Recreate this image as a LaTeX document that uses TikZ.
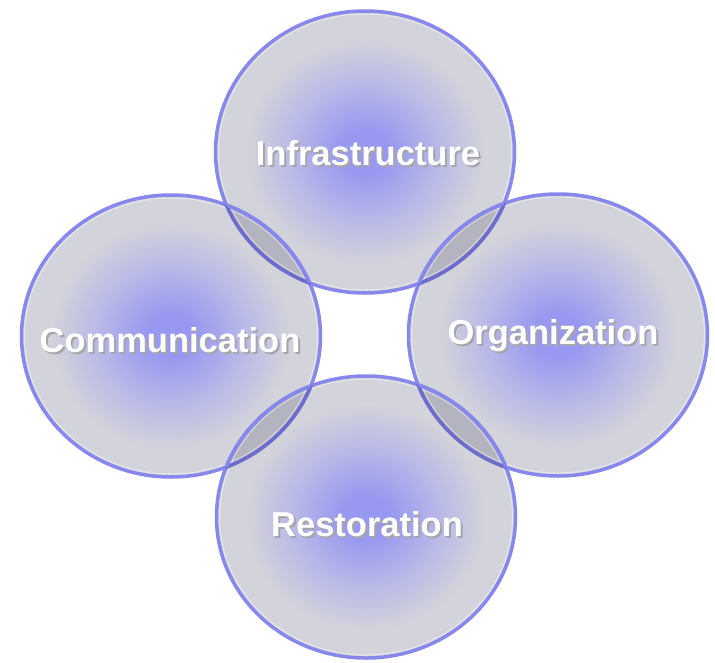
\documentclass[tikz,border=0pt]{standalone}
\usepackage{fontspec}
\setmainfont{Liberation Sans}
\usetikzlibrary{shapes.geometric}
\definecolor{cin}{RGB}{152,152,240}
\definecolor{cmid}{RGB}{184,184,232}
\definecolor{cout}{RGB}{211,211,219}
\definecolor{rim}{RGB}{136,136,236}
\definecolor{rimdark}{RGB}{110,110,202}
\definecolor{lensfill}{RGB}{180,180,192}
\definecolor{txtshadow}{RGB}{165,165,170}
\pgfdeclareradialshading{vennshade}{\pgfpoint{0bp}{0bp}}{color(0bp)=(cin); color(4bp)=(cin); color(12bp)=(cmid); color(20bp)=(cout); color(25bp)=(cout); color(50bp)=(cout)}
\tikzset{
  vennbody/.style={ellipse, minimum width=299pt, minimum height=282pt, inner sep=0pt, shading=vennshade, draw=none},
  rimline/.style={draw=rim, line width=3.5pt},
  rimdarkline/.style={draw=rimdark, line width=3.5pt},
  hiline/.style={draw=white, line width=1pt, draw opacity=0.45},
  lbl/.style={text=white, font=\bfseries\fontsize{34.5}{40}\selectfont, inner sep=0pt},
}
\newcommand{\vennell}[1]{(#1.center) ellipse [x radius=149.5pt, y radius=141pt]}
\newcommand{\vennellin}[1]{(#1.center) ellipse [x radius=146.5pt, y radius=138pt]}
\newcommand{\shtext}[1]{\rlap{\kern2pt\raisebox{-2pt}{\textcolor{txtshadow}{#1}}}#1}
\begin{document}
\begin{tikzpicture}[x=1pt,y=-1pt]
\useasboundingbox (0,0) rectangle (715,662);
% bodies
\node[vennbody, shade] (T) at (365,152) {};
\node[vennbody, shade] (L) at (171,336) {};
\node[vennbody, shade] (R) at (558,335) {};
\node[vennbody, shade] (B) at (366,517) {};
% lenses
\begin{scope}\clip \vennell{T}; \fill[lensfill] \vennell{L}; \fill[lensfill] \vennell{R}; \end{scope}
\begin{scope}\clip \vennell{B}; \fill[lensfill] \vennell{L}; \fill[lensfill] \vennell{R}; \end{scope}
% inner highlights
\foreach \n in {T,L,R,B} { \draw[hiline] \vennellin{\n}; }
% rims
\foreach \n in {T,L,R,B} { \draw[rimline] \vennell{\n}; }
% darker rims beneath upper ellipses
\begin{scope}\clip \vennell{L}; \draw[rimdarkline] \vennell{T}; \end{scope}
\begin{scope}\clip \vennell{T}; \draw[rimline] \vennell{L}; \end{scope}
\begin{scope}\clip \vennell{R}; \draw[rimdarkline] \vennell{T}; \end{scope}
\begin{scope}\clip \vennell{T}; \draw[rimline] \vennell{R}; \end{scope}
\begin{scope}\clip \vennell{B}; \draw[rimdarkline] \vennell{L}; \end{scope}
\begin{scope}\clip \vennell{L}; \draw[rimline] \vennell{B}; \end{scope}
\begin{scope}\clip \vennell{B}; \draw[rimdarkline] \vennell{R}; \end{scope}
\begin{scope}\clip \vennell{R}; \draw[rimline] \vennell{B}; \end{scope}
% labels
\node[lbl] (Tl) at (368,154) {\shtext{Infrastructure}};
\node[lbl] (Ll) at (170,341) {\shtext{Communication}};
\node[lbl] (Rl) at (553,337) {\shtext{Organization}};
\node[lbl] (Bl) at (367,525) {\shtext{Restoration}};
\end{tikzpicture}
\end{document}
